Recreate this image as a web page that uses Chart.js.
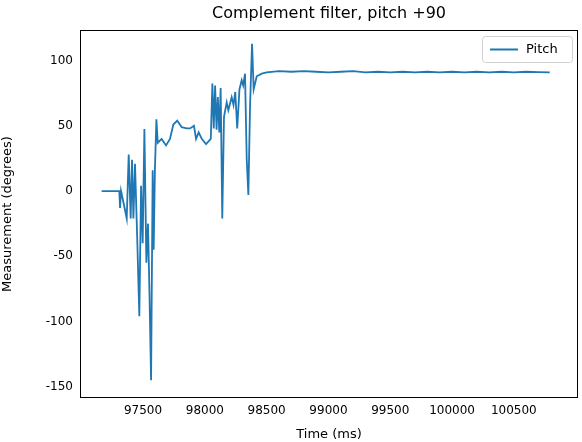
<!DOCTYPE html>
<html><head><meta charset="utf-8">
<script src="https://cdn.jsdelivr.net/npm/chart.js@4"></script>
<style>html,body{margin:0;padding:0;background:#fff}#w{width:582px;height:442px}</style>
</head><body><div id="w"><canvas id="c"></canvas></div>
<script>
const timeMs = [97165,97308,97314,97322,97340,97368,97384,97400,97411,97422,97435,97454,97470,97484,97497,97511,97527,97540,97552,97565,97578,97586,97596,97608,97619,97650,97686,97718,97745,97777,97813,97853,97880,97912,97929,97950,97975,98010,98048,98061,98072,98083,98095,98105,98117,98128,98141,98155,98177,98190,98217,98232,98246,98262,98280,98298,98310,98325,98339,98352,98366,98382,98395,98420,98460,98500,98600,98700,98800,98900,99000,99100,99200,99300,99400,99500,99600,99700,99800,99900,100000,100100,100200,100300,100400,100500,100600,100700,100790];
const pitch = [0,0,-13,0,-8,-21,28,-21,24,-21,21,-40,-96,4,-40,47.5,-55,-25,-78,-145,16,-45,16,55,37,40,35,40,51,54,49,48,48,50,40,45,40,36,40,82.5,48,81,47,72,45,79,-21,57,68,62,72,66,76,48,78,85,81,90,24,-3,66,113,78,88,90,91,92,91.5,92,91.5,91,91.5,92,91,91.5,91,91.5,91,91.5,91,91.5,91,91.5,91,91.5,91,91.5,91.2,91];
const xTicks = [97500,98000,98500,99000,99500,100000,100500];
const yTicks = [-150,-100,-50,0,50,100];
const titleText = 'Complement filter, pitch +90';
const seriesName = 'Pitch';
const xLabel = 'Time (ms)', yLabel = 'Measurement (degrees)';
const blue = '#1f77b4';
const font = 'DejaVu Sans';
const deco = {id:'deco', afterDraw(ch){
  const {ctx, chartArea:a} = ch;
  ctx.save();
  ctx.strokeStyle='#000'; ctx.lineWidth=1;
  ctx.strokeRect(a.left+0.5,a.top+0.5,a.right-a.left-1,a.bottom-a.top-1);
  ctx.fillStyle='#000'; ctx.textAlign='center'; ctx.textBaseline='middle';
  ctx.font='16px "'+font+'"';
  ctx.fillText(titleText,(a.left+a.right)/2,14);
  // legend
  const lx=a.right-96, ly=a.top+6, lw=90, lh=26;
  ctx.strokeStyle='#d0d0d0'; ctx.fillStyle='rgba(255,255,255,0.8)';
  ctx.beginPath(); ctx.roundRect(lx+0.5,ly+0.5,lw,lh,3); ctx.fill(); ctx.stroke();
  ctx.strokeStyle=blue; ctx.lineWidth=2;
  ctx.beginPath(); ctx.moveTo(lx+8,ly+13.5); ctx.lineTo(lx+36,ly+13.5); ctx.stroke();
  ctx.fillStyle='#000'; ctx.textAlign='left'; ctx.font='13px "'+font+'"';
  ctx.fillText(seriesName,lx+44,ly+14);
  ctx.restore();
}};
new Chart(document.getElementById('c'),{
  type:'line',
  data:{datasets:[{label:seriesName,data:timeMs.map((t,i)=>({x:t,y:pitch[i]})),borderColor:blue,borderWidth:1.8,pointRadius:0,tension:0}]},
  options:{responsive:true,maintainAspectRatio:false,animation:false,
    layout:{padding:{top:30,right:4,left:0,bottom:0}},
    plugins:{legend:{display:false},tooltip:{enabled:false}},
    scales:{
      x:{type:'linear',min:96990,max:101019,
        afterBuildTicks(s){s.ticks=xTicks.map(v=>({value:v}));},
        afterFit(s){s.height=44;},
        grid:{display:false,drawTicks:true,tickLength:4,tickColor:'#000'},border:{display:false},
        ticks:{color:'#000',font:{family:font,size:12},maxRotation:0,padding:2,callback:v=>String(v)},
        title:{display:true,text:xLabel,color:'#000',font:{family:font,size:13},padding:{top:0,bottom:0}}},
      y:{min:-158.7,max:123.5,
        afterBuildTicks(s){s.ticks=yTicks.map(v=>({value:v}));},
        afterFit(s){s.width=80;},
        grid:{display:false,drawTicks:true,tickLength:4,tickColor:'#000'},border:{display:false},
        ticks:{color:'#000',font:{family:font,size:12},padding:3,callback:v=>String(v)},
        title:{display:true,text:yLabel,color:'#000',font:{family:font,size:13},padding:{top:0,bottom:4}}}
    }},
  plugins:[deco]
});
</script></body></html>
